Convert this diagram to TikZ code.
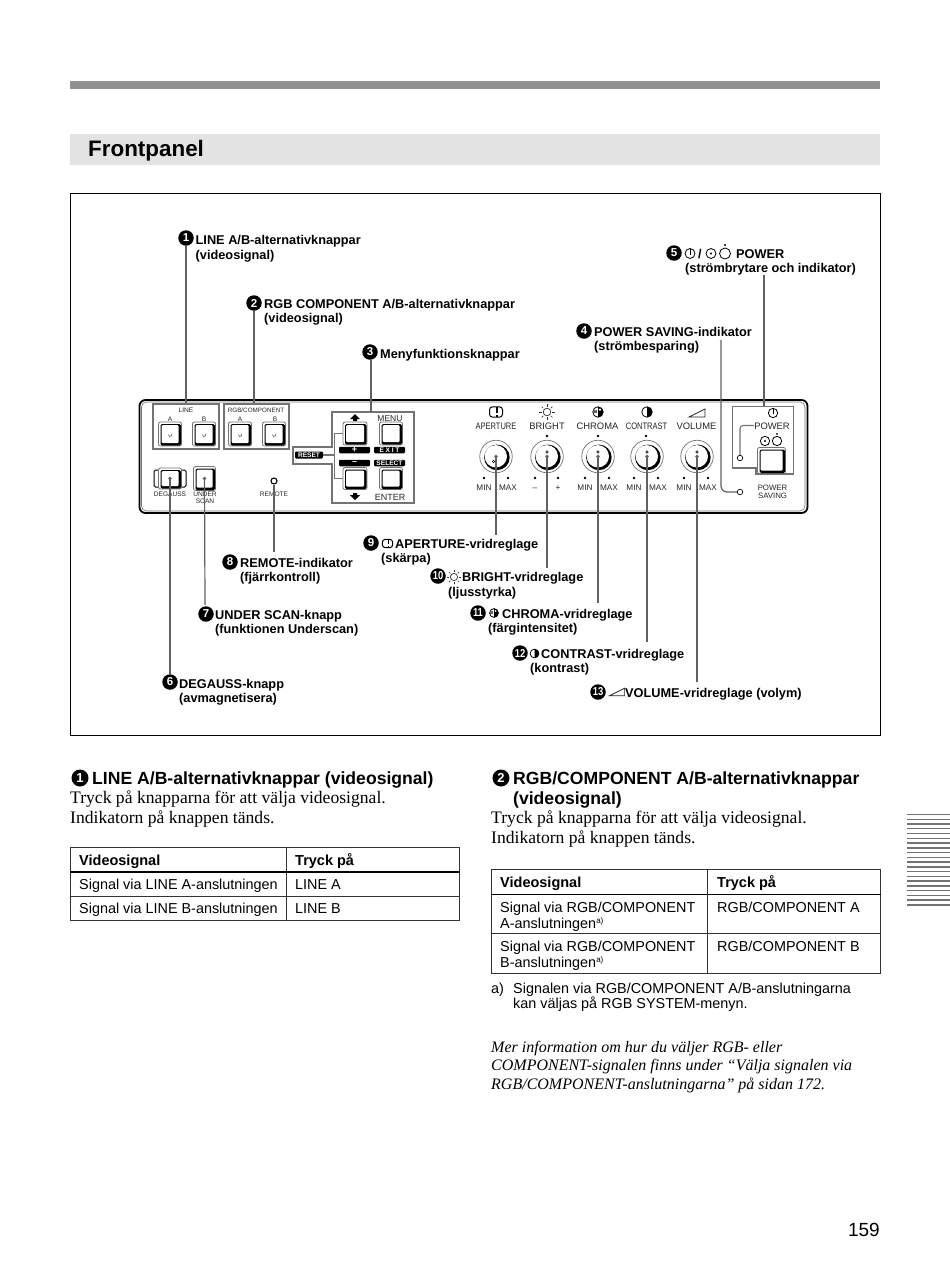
\documentclass[tikz,border=0pt]{standalone}
\usepackage{fontspec}
\setmainfont{Liberation Serif}
\setsansfont{Liberation Sans}
\newfontfamily\spaced[LetterSpace=25]{Liberation Sans}
\usetikzlibrary{calc}
\definecolor{lead}{gray}{0.38}
\definecolor{pg}{gray}{0.45}
\tikzset{
 leader/.style={draw=lead,line width=1.2pt},
 lab/.style={anchor=base west,inner sep=0pt,font=\sffamily\bfseries\fontsize{12.75}{14}\selectfont},
 head/.style={anchor=base west,inner sep=0pt,font=\sffamily\bfseries\fontsize{17.6}{19}\selectfont},
 body/.style={anchor=base west,inner sep=0pt,font=\rmfamily\fontsize{17.6}{20}\selectfont},
 ital/.style={anchor=base west,inner sep=0pt,font=\rmfamily\itshape\fontsize{16}{18}\selectfont},
 cell/.style={anchor=base west,inner sep=0pt,font=\sffamily\fontsize{14.4}{16}\selectfont},
 cellh/.style={anchor=base west,inner sep=0pt,font=\sffamily\bfseries\fontsize{14.5}{16}\selectfont},
 note/.style={anchor=base west,inner sep=0pt,font=\sffamily\fontsize{14.4}{15}\selectfont},
 ptx/.style={anchor=base,inner sep=0pt,text=black!85,font=\sffamily\fontsize{9.4}{11}\selectfont},
 pts/.style={anchor=base,inner sep=0pt,text=black!85,font=\sffamily\fontsize{6.6}{8}\selectfont},
 ptm/.style={anchor=base,inner sep=0pt,text=black!85,font=\sffamily\fontsize{8.2}{9}\selectfont},
 pill/.style={fill=black,rounded corners=1.2pt,inner sep=0pt,text=white,font=\sffamily\bfseries\fontsize{6.6}{7}\selectfont},
 bul/.style={circle,fill=black,inner sep=0pt,minimum size=15.5pt,text=white,font=\sffamily\bfseries\fontsize{11.5}{12}\selectfont},
 bulb/.style={circle,fill=black,inner sep=0pt,minimum size=17pt,text=white,font=\sffamily\bfseries\fontsize{13}{14}\selectfont},
 pline/.style={draw=pg,line width=1.1pt},
 tline/.style={draw=black!80,line width=1pt},
 thead/.style={draw=black,line width=1.6pt},
}
\newcommand\tight[1]{\scalebox{.82}[1]{#1}}
\newcommand\supa{\raisebox{5pt}{\fontsize{8}{9}\selectfont a)}}
% button: name, cx, cy, w, h
\newcommand\btn[5]{\begin{scope}[shift={(#2,#3)}]
 \node[draw=pg,fill=white,line width=.8pt,rounded corners=2pt,minimum width=#4pt,minimum height=#5pt,inner sep=0pt] (#1) at (0,0) {};
 \fill[black,rounded corners=1.5pt] (-#4/2+2,-#5/2+2) rectangle (#4/2-.5,#5/2-.5);
 \fill[white,rounded corners=1pt] (-#4/2+3.2,-#5/2+3.2) rectangle (#4/2-3,#5/2-3);
\end{scope}}
\newcommand\btnmark[2]{\draw[pg,line width=.7pt] (#1-1.5,#2+.5) arc[start angle=200,end angle=-60,radius=1.7];}
% knob: name, cx, cy
\newcommand\knob[3]{\begin{scope}[shift={(#2,#3)}]
 \node[circle,draw=pg,fill=white,line width=.7pt,minimum size=32.5pt,inner sep=0pt] (#1) at (0,0) {};
 \fill[black] (.9,.9) circle[radius=12.8];
 \fill[white] (-.2,-.2) circle[radius=11.2];
\end{scope}}
\newcommand\icAp[3]{\begin{scope}[shift={(#1,#2)},scale=#3]
 \draw[black,line width=1pt,rounded corners=3pt] (-6.5,-5.2) rectangle (6.5,5.2);
 \fill[black] (.2,-5.2) rectangle (2,1); \fill[black] (.2,3) rectangle (2,5.2);
\end{scope}}
\newcommand\icSun[3]{\begin{scope}[shift={(#1,#2)},scale=#3]
 \draw[black!80,line width=.7pt] (0,0) circle[radius=3.8];
 \foreach \a in {0,45,...,315} \draw[black!80,line width=.7pt] (\a:5.4) -- (\a:7.6);
\end{scope}}
\newcommand\icCh[3]{\begin{scope}[shift={(#1,#2)},scale=#3]
 \draw[black,line width=.8pt] (0,0) circle[radius=5.5];
 \fill[black] (0,-5.5) arc[start angle=-90,end angle=90,radius=5.5] -- cycle;
 \fill[black!60] (-5,-2) rectangle (-1,1); \fill[white] (2,-2.5) circle[radius=1.3];
\end{scope}}
\newcommand\icCo[3]{\begin{scope}[shift={(#1,#2)},scale=#3]
 \draw[black,line width=.8pt] (0,0) circle[radius=5.5];
 \fill[black] (0,-5.5) arc[start angle=-90,end angle=90,radius=5.5] -- cycle;
\end{scope}}
\newcommand\icVo[3]{\begin{scope}[shift={(#1,#2)},scale=#3]
 \draw[black!85,line width=.7pt] (-8,4) -- (8,-4) -- (8,4) -- cycle;
\end{scope}}
\newcommand\icPw[3]{\begin{scope}[shift={(#1,#2)},scale=#3]
 \draw[black,line width=.8pt] (0,0) circle[radius=5.5];
 \draw[black,line width=.8pt] (0,-5.5) -- (0,1.5);
\end{scope}}
\newcommand\icSb[3]{\begin{scope}[shift={(#1,#2)},scale=#3]
 \draw[black,line width=.8pt] (0,0) circle[radius=5.5];
 \fill[black] (0,0) circle[radius=1.2];
\end{scope}}
\newcommand\icOn[3]{\begin{scope}[shift={(#1,#2)},scale=#3]
 \draw[black,line width=.8pt] (0,0) circle[radius=5.5];
 \fill[black] (0,-8.5) circle[radius=1.2];
\end{scope}}
\newcommand\arU[2]{\fill[black] (#1-5,#2+1) -- (#1,#2-4) -- (#1+5,#2+1) -- (#1+2,#2+1) -- (#1+2,#2+3) -- (#1-2,#2+3) -- (#1-2,#2+1) -- cycle;}
\newcommand\arD[2]{\fill[black] (#1-5,#2-1) -- (#1,#2+4) -- (#1+5,#2-1) -- (#1+2,#2-1) -- (#1+2,#2-3) -- (#1-2,#2-3) -- (#1-2,#2-1) -- cycle;}
\newcommand\kdot[2]{\fill[black] (#1,#2) circle[radius=1.3];}
\begin{document}
\begin{tikzpicture}[x=1pt,y=-1pt]
\useasboundingbox (0,0) rectangle (950,1266);
\fill[white] (0,0) rectangle (950,1266);
% page bars
\fill[black!43] (70,81) rectangle (880,89);
\fill[black!11] (70,134) rectangle (880,165);
\node[anchor=base west,inner sep=0pt,font=\sffamily\bfseries\fontsize{22.4}{26}\selectfont] (title) at (88,156) {Frontpanel};
\draw[black,line width=.8pt] (70.5,193.5) rectangle (880.5,735.5);

% panel
\draw[black,line width=1.8pt,rounded corners=6pt] (139.5,400) rectangle (807.5,513);
\draw[pg,line width=.6pt,rounded corners=5pt] (141.5,402) rectangle (805,511);
\node[draw=pg,line width=1.1pt,minimum width=66pt,minimum height=45pt,inner sep=0pt] (linebox) at (186,426.5) {};
\node[draw=pg,line width=1.1pt,minimum width=65pt,minimum height=45pt,inner sep=0pt] (rgbbox) at (256.5,426.5) {};
\node[minimum width=82pt,minimum height=91pt,inner sep=0pt] (menubox) at (373,457.5) {};
\draw[pg,line width=1.1pt] (332,412) -- (414,412) -- (414,503) -- (332,503) -- (332,464) -- (293,464) -- (293,447) -- (332,447) -- cycle;
\node[pts] (tLine) at (186,412) {LINE};
\node[pts] (tLa) at (170,421) {A};
\node[pts] (tLb) at (204,421) {B};
\node[pts,font=\sffamily\fontsize{6.3}{8}\selectfont] (tRgb) at (256,412) {RGB/COMPONENT};
\node[pts] (tRa) at (240,421) {A};
\node[pts] (tRb) at (275,421) {B};
\btn{bLa}{170}{434}{23}{24}\btnmark{170}{434}
\btn{bLb}{204}{434}{23}{24}\btnmark{204}{434}
\btn{bRa}{240}{434}{23}{24}\btnmark{240}{434}
\btn{bRb}{274}{434}{23}{24}\btnmark{274}{434}
% menu
\coordinate (rsJ) at (334.5,455);
\node[pill,minimum width=28pt,minimum height=7pt] (reset) at (309,455) {RESET};
\btn{bUp}{355}{433.5}{24}{23}
\btn{bMenu}{391}{433.5}{23}{23}
\btn{bDn}{355}{478.5}{24}{22}
\btn{bEnter}{391}{478.5}{23}{22}
\draw[pline] (reset.east) -- (rsJ);
\draw[pline] (bUp.west) -| (rsJ) |- (bDn.west);
\node[pill,minimum width=31pt,minimum height=6.5pt,font=\sffamily\bfseries\fontsize{9}{7}\selectfont] (plus) at (354.5,450) {+};
\node[pill,minimum width=31pt,minimum height=6.5pt,font=\sffamily\bfseries\fontsize{9}{7}\selectfont] (minus) at (354.5,463) {–};
\node[pill,minimum width=31pt,minimum height=6.5pt,font=\spaced\bfseries\fontsize{6.6}{7}\selectfont] (exit) at (389.5,450) {EXIT};
\node[pill,minimum width=31pt,minimum height=6.5pt] (select) at (389.5,463) {SELECT};
\arU{355}{418}
\arD{355}{496}
\node[ptx,font=\sffamily\fontsize{8.5}{10}\selectfont] (tMenu) at (390,421) {MENU};
\node[ptx,font=\sffamily\fontsize{9}{10}\selectfont] (tEnter) at (390,500) {ENTER};
% left lower
\node[draw=black,line width=1pt,minimum width=32pt,minimum height=17pt,inner sep=0pt,rounded corners=1.5pt] (dgOuter) at (170,478.5) {};
\btn{bDeg}{170}{478.5}{23}{21}
\btn{bUs}{204.5}{478.5}{22}{24}
\node[pts] (tDeg) at (170,496.5) {DEGAUSS};
\node[pts] (tUn) at (205,496.5) {UNDER};
\node[pts] (tSc) at (205,503.5) {SCAN};
\node[circle,draw=black,fill=white,line width=1.1pt,minimum size=6pt,inner sep=0pt] (remote) at (274,481) {};
\node[pts] (tRem) at (274,496.5) {REMOTE};
% knobs
\knob{k1}{496}{456.5}\knob{k2}{547}{456.5}\knob{k3}{598}{456.5}\knob{k4}{647}{456.5}\knob{k5}{697}{456.5}
\draw[black,line width=.5pt] (493.5,461.5) circle[radius=1.3];
\foreach \c in {547,598,647,697} \draw[black,line width=.5pt] (\c,452) circle[radius=1.3];
\icAp{496}{412}{1}
\icSun{547}{412}{1}
\icCh{598}{412}{.95}
\icCo{647}{412}{.95}
\icVo{697}{413}{1}
\node[ptx] (tAp) at (496,429) {\scalebox{.8}[1]{APERTURE}};
\node[ptx] (tBr) at (547,429) {BRIGHT};
\node[ptx] (tCh) at (597.5,429) {CHROMA};
\node[ptx] (tCo) at (646.5,429) {\scalebox{.8}[1]{CONTRAST}};
\node[ptx] (tVo) at (696.5,429) {VOLUME};
\kdot{547}{436}\kdot{598}{436}\kdot{646}{436}
\kdot{484}{478}\kdot{508}{478}\kdot{535}{478}\kdot{558}{478}\kdot{585}{478}\kdot{609}{478}\kdot{634}{478}\kdot{658}{478}\kdot{684}{478}\kdot{708}{478}
\node[ptm] (m1) at (484,490) {MIN};
\node[ptm] (x1) at (508,490) {MAX};
\node[ptm] (m2) at (535,490) {–};
\node[ptm] (x2) at (558,490) {+};
\node[ptm] (m3) at (585,490) {MIN};
\node[ptm] (x3) at (609,490) {MAX};
\node[ptm] (m4) at (634,490) {MIN};
\node[ptm] (x4) at (658,490) {MAX};
\node[ptm] (m5) at (684,490) {MIN};
\node[ptm] (x5) at (708,490) {MAX};
% power
\draw[pg,line width=1.1pt] (756,474) -- (793.5,474) -- (793.5,406.5) -- (732.5,406.5) -- (732.5,468) -- (756,468) -- cycle;
\icPw{773}{413}{.85}
\node[ptx,font=\sffamily\fontsize{9.4}{11}\selectfont] (tPow) at (772,429) {POWER};
\icSb{765}{441}{.85}
\icOn{777}{441}{.85}
\btn{bPow}{771.5}{460.5}{28}{26}
\node[circle,draw=black,fill=white,line width=.7pt,minimum size=5.5pt,inner sep=0pt] (iStd) at (740,458) {};
\coordinate (pwL) at (754,425.5);
\draw[pline,rounded corners=3pt] (pwL) -- (pwL -| iStd) -- (iStd.north);
\node[circle,draw=black,fill=white,line width=.7pt,minimum size=5.5pt,inner sep=0pt] (iSav) at (740,492) {};
\node[ptm,font=\sffamily\fontsize{7.8}{9}\selectfont] (tPs1) at (772.5,490) {POWER};
\node[ptm,font=\sffamily\fontsize{7.8}{9}\selectfont] (tPs2) at (772.5,498) {SAVING};

% callouts
\node[bul] (n1) at (186,238) {1};
\node[lab] (t1) at (195.5,244) {LINE A/B-alternativknappar};
\node[lab] (t1b) at (195.5,259) {(videosignal)};
\node[bul] (n2) at (254,303) {2};
\node[lab] (t2) at (264,308) {RGB COMPONENT A/B-alternativknappar};
\node[lab] (t2b) at (264,322) {(videosignal)};
\node[bul] (n3) at (370,352) {3};
\node[lab] (t3) at (380,358) {Menyfunktionsknappar};
\node[bul] (n4) at (584,331) {4};
\node[lab] (t4) at (594,336) {POWER SAVING-indikator};
\node[lab] (t4b) at (594,350) {(strömbesparing)};
\node[bul] (n5) at (674,253) {5};
\icPw{690}{253.5}{.9}
\node[lab] (t5s) at (698,258) {/};
\icSb{711}{253.5}{.9}
\icOn{725}{253.5}{1}
\node[lab] (t5) at (736,258) {POWER};
\node[lab] (t5b) at (685,272) {(strömbrytare och indikator)};
\node[bul] (n6) at (170,682) {6};
\node[lab] (t6) at (179,688) {DEGAUSS-knapp};
\node[lab] (t6b) at (179,702) {(avmagnetisera)};
\node[bul] (n7) at (206,614) {7};
\node[lab] (t7) at (215,619) {UNDER SCAN-knapp};
\node[lab] (t7b) at (215,633) {(funktionen Underscan)};
\node[bul] (n8) at (230,562) {8};
\node[lab] (t8) at (240,567) {REMOTE-indikator};
\node[lab] (t8b) at (240,581) {(fjärrkontroll)};
\node[bul] (n9) at (371,543) {9};
\icAp{387.5}{543.5}{.8}
\node[lab] (t9) at (395,548) {APERTURE-vridreglage};
\node[lab] (t9b) at (381,562) {(skärpa)};
\node[bul] (n10) at (438,576) {\tight{10}};
\icSun{454}{577}{.95}
\node[lab] (t10) at (462,581) {BRIGHT-vridreglage};
\node[lab] (t10b) at (448,596) {(ljusstyrka)};
\node[bul] (n11) at (478,613) {\tight{11}};
\icCh{494}{613}{.8}
\node[lab] (t11) at (502,618) {CHROMA-vridreglage};
\node[lab] (t11b) at (488,632) {(färgintensitet)};
\node[bul] (n12) at (520,653) {\tight{12}};
\icCo{534.5}{653.5}{.8}
\node[lab] (t12) at (541,658) {CONTRAST-vridreglage};
\node[lab] (t12b) at (530,672) {(kontrast)};
\node[bul] (n13) at (598,692) {\tight{13}};
\icVo{617}{692}{.95}
\node[lab] (t13) at (625,697) {VOLUME-vridreglage (volym)};

% leaders
\coordinate (e3) at (371,360);
\coordinate (e5) at (764,275);
\coordinate (p5) at (764,406);
\coordinate (e4) at (721,340);
\coordinate (e7) at (205,605);
\coordinate (e8) at (274,552);
\coordinate (e9) at (496,535);
\coordinate (e10) at (547,568);
\coordinate (e11) at (598,603);
\coordinate (e12) at (647,642);
\coordinate (e13) at (697,682);
\draw[leader] (n1.south) -- (n1.south |- linebox.north);
\draw[leader] (n2.south) -- (n2.south |- rgbbox.north);
\draw[leader] (e3) -- (e3 |- menubox.north);
\draw[leader] (e5) -- (p5);
\draw[leader,rounded corners=6pt] (e4) -- (e4 |- iSav) -- (iSav.west);
\draw[leader] (bDeg.center) -- (n6.north);
\draw[leader] (bUs.center) -- (e7);
\draw[leader] (remote.south) -- (e8);
\draw[leader] (k1.center) -- (e9);
\draw[leader] (k2.center) -- (e10);
\draw[leader] (k3.center) -- (e11);
\draw[leader] (k4.center) -- (e12);
\draw[leader] (k5.center) -- (e13);
\foreach \c in {k1,k2,k3,k4,k5,bDeg,bUs} \fill[lead] (\c.center) circle[radius=1.8];

% left section
\node[bulb] (s1) at (80,778) {1};
\node[head] (h1) at (92,784) {LINE A/B-alternativknappar (videosignal)};
\node[body] (b1) at (70,803) {Tryck på knapparna för att välja videosignal.};
\node[body] (b2) at (70,823) {Indikatorn på knappen tänds.};
\draw[tline] (70.5,847) rectangle (459,920);
\draw[thead] (70,872) -- (459.5,872);
\draw[tline] (70,896) -- (459,896);
\draw[tline] (286.5,847) -- (286.5,920);
\node[cellh] (c1) at (79,865) {Videosignal};
\node[cellh] (c2) at (295,865) {Tryck på};
\node[cell] (c3) at (79,889) {Signal via LINE A-anslutningen};
\node[cell] (c4) at (295,889) {LINE A};
\node[cell] (c5) at (79,913) {Signal via LINE B-anslutningen};
\node[cell] (c6) at (295,913) {LINE B};
% right section
\node[bulb] (s2) at (501,778) {2};
\node[head] (h2) at (513,784) {RGB/COMPONENT A/B-alternativknappar};
\node[head] (h2b) at (513,804) {(videosignal)};
\node[body] (b3) at (491,823) {Tryck på knapparna för att välja videosignal.};
\node[body] (b4) at (491,843) {Indikatorn på knappen tänds.};
\draw[tline] (491.5,869) rectangle (880,973);
\draw[thead] (491,894.5) -- (880.5,894.5);
\draw[tline] (491,933.5) -- (880,933.5);
\draw[tline] (707.5,869) -- (707.5,973);
\node[cellh] (d1) at (500,887) {Videosignal};
\node[cellh] (d2) at (717,887) {Tryck på};
\node[cell] (d3) at (500,912) {Signal via RGB/COMPONENT};
\node[cell] (d4) at (500,928) {A-anslutningen\supa};
\node[cell] (d5) at (717,912) {RGB/COMPONENT A};
\node[cell] (d6) at (500,951) {Signal via RGB/COMPONENT};
\node[cell] (d7) at (500,967) {B-anslutningen\supa};
\node[cell] (d8) at (717,951) {RGB/COMPONENT B};
\node[note] (f0) at (491,993) {a)};
\node[note] (f1) at (513,993) {Signalen via RGB/COMPONENT A/B-anslutningarna};
\node[note] (f2) at (513,1008) {kan väljas på RGB SYSTEM-menyn.};
\node[ital] (i1) at (491,1052) {Mer information om hur du väljer RGB- eller};
\node[ital] (i2) at (491,1070) {COMPONENT-signalen finns under “Välja signalen via};
\node[ital] (i3) at (491,1089) {RGB/COMPONENT-anslutningarna” på sidan 172.};
\node[anchor=base east,inner sep=0pt,font=\sffamily\fontsize{19}{22}\selectfont] (page) at (880,1236) {159};
% side tab
\foreach \i in {0,...,19} \draw[black!55,line width=1.4pt] (907,814.5+4.76*\i) -- (950,814.5+4.76*\i);
\end{tikzpicture}
\end{document}
